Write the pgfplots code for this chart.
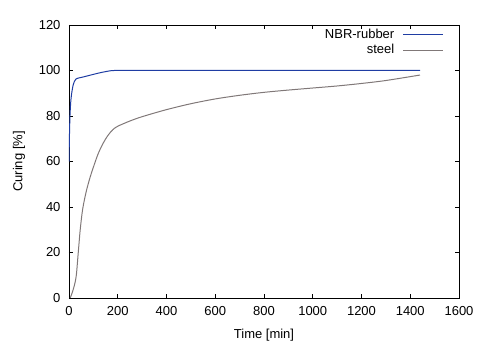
\documentclass[border=0pt]{standalone}
\usepackage{fontspec}
\setmainfont{Liberation Sans}
\usepackage{pgfplots}
\pgfplotsset{compat=1.18}
\definecolor{nbrblue}{rgb}{0.12,0.24,0.64}
\definecolor{steelgray}{rgb}{0.50,0.47,0.47}
\begin{document}
\fontsize{13bp}{15.6bp}\selectfont
\begin{tikzpicture}
\begin{axis}[
  scale only axis,
  width=390bp, height=273bp,
  xmin=0, xmax=1600, ymin=0, ymax=120,
  xtick={0,200,...,1600}, ytick={0,20,...,120},
  /pgf/number format/assume math mode=true,
  /pgf/number format/1000 sep={},
  tick align=inside,
  major tick length=4bp,
  axis line style={line width=0.9bp},
  every tick/.style={line width=0.7bp, black},
  xticklabel style={yshift=-4bp},
  yticklabel style={xshift=-4bp},
  xlabel={Time [min]},
  ylabel={Curing [\%]},
  xlabel style={at={(axis description cs:0.5,0)}, anchor=center, yshift=-37bp},
  ylabel style={at={(axis description cs:-0.128,0.5)}, anchor=center},
  legend plot pos=right,
  legend cell align=right,
  legend image code/.code={\path[draw=none] (0bp,0bp) -- (1bp,0bp); \draw[#1] (7bp,0bp) -- (47bp,0bp);},
  legend style={draw=none, fill=none, at={(axis description cs:1,1)}, anchor=north east,
    xshift=-15bp, yshift=-2bp, inner sep=0pt, row sep=0bp,
    nodes={inner sep=2bp}},
]
\addplot[nbrblue, line width=1bp, smooth, tension=0.4] coordinates {
(0,60) (2,72) (4,80) (7,86) (11,90) (18,94) (29,96.3) (60,97.2) (100,98.3) (127,99) (155,99.6) (185,100) (300,100) (800,100) (1440,100)
};
\addlegendentry{NBR-rubber}
\addplot[steelgray, line width=1bp, smooth, tension=0.5] coordinates {
(5,0) (12,2) (22,5.5) (30,10) (38,20) (46,30) (56,39) (70,46.5) (85,52.5) (100,57.5) (120,63.5) (140,68) (160,71.5) (180,74) (200,75.5) (250,77.8) (300,79.7) (400,82.8) (500,85.4) (600,87.5) (700,89.1) (800,90.4) (900,91.4) (1000,92.3) (1100,93.2) (1200,94.3) (1300,95.6) (1440,98)
};
\addlegendentry{steel}
\end{axis}
\path (current axis.south west) ++(-69bp,-53bp) coordinate (bbA);
\path (current axis.north east) ++(34bp,25bp) coordinate (bbB);
\path (bbA) rectangle (bbB);
\end{tikzpicture}
\end{document}
